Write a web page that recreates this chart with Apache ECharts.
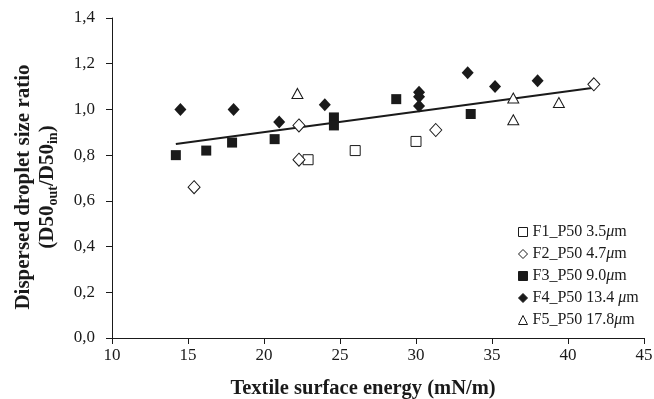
<!DOCTYPE html>
<html>
<head>
<meta charset="utf-8">
<script src="https://cdn.jsdelivr.net/npm/echarts@6/dist/echarts.min.js"></script>
<style>
  html, body { margin: 0; padding: 0; background: #fff; }
  #chart { width: 654px; height: 399px; }
</style>
</head>
<body>
<div id="chart"></div>
<script>
// values
const f1X = [22.9, 26.0, 30.0];
const f1Y = [0.78, 0.82, 0.86];
const f2X = [15.4, 22.3, 22.3, 31.3, 41.7];
const f2Y = [0.66, 0.93, 0.78, 0.91, 1.11];
const f3X = [14.2, 16.2, 17.9, 20.7, 24.6, 24.6, 28.7, 33.6];
const f3Y = [0.80, 0.82, 0.855, 0.87, 0.965, 0.93, 1.045, 0.98];
const f4X = [14.5, 18.0, 21.0, 24.0, 30.2, 30.2, 30.2, 33.4, 35.2, 38.0];
const f4Y = [1.0, 1.0, 0.945, 1.02, 1.075, 1.055, 1.015, 1.16, 1.10, 1.125];
const f5X = [22.2, 36.4, 36.4, 39.4];
const f5Y = [1.07, 1.05, 0.955, 1.03];
const trendX = [14.2, 41.7];
const trendY = [0.849, 1.095];

const seriesNames = [
  "F1_P50 3.5μm",
  "F2_P50 4.7μm",
  "F3_P50 9.0μm",
  "F4_P50 13.4 μm",
  "F5_P50 17.8μm",
];
const xTicks = { min: 10, max: 45, step: 5 };
const yTicks = { min: 0, max: 1.4, step: 0.2 };

const pairs = (xs, ys) => xs.map((x, i) => [x, ys[i]]);
const serif = "Liberation Serif";
const ink = "#1a1a1a";

const chart = echarts.init(document.getElementById("chart"));

const openStyle = { color: "#fff", borderColor: ink, borderWidth: 1, opacity: 1 };
const solidStyle = { color: ink, borderColor: ink, borderWidth: 0, opacity: 1 };

const option = {
  animation: false,
  backgroundColor: "#fff",
  textStyle: { fontFamily: serif, color: ink },
  grid: { left: 112, right: 10, top: 18, bottom: 61, outerBoundsMode: "none" },
  legend: {
    data: seriesNames,
    orient: "vertical",
    left: 513,
    top: 219,
    itemWidth: 9,
    itemHeight: 9,
    itemGap: 6,
    itemStyle: { borderWidth: 1 },
    formatter: (name) => {
      const parts = name.split("μ");
      return "{a|" + parts[0] + "}{i|μ}{a|" + parts[1] + "}";
    },
    textStyle: {
      fontFamily: serif,
      color: ink,
      rich: {
        a: { fontFamily: serif, fontSize: 16, color: ink, lineHeight: 16 },
        i: { fontFamily: serif, fontSize: 16, color: ink, fontStyle: "italic", lineHeight: 16 },
      },
    },
  },
  xAxis: {
    type: "value",
    min: xTicks.min,
    max: xTicks.max,
    interval: xTicks.step,
    splitLine: { show: false },
    axisLine: { show: true, lineStyle: { color: ink, width: 1 } },
    axisTick: { show: true, length: 6, lineStyle: { color: ink } },
    axisLabel: { fontFamily: serif, fontSize: 17, color: ink, margin: 9 },
    name: "Textile surface energy (mN/m)",
    nameLocation: "middle",
    nameGap: 40,
    nameTextStyle: {
      fontFamily: serif,
      fontSize: 20.5,
      fontWeight: "bold",
      color: ink,
      padding: [0, 30, 0, 0],
    },
  },
  yAxis: {
    type: "value",
    min: yTicks.min,
    max: yTicks.max,
    interval: yTicks.step,
    splitLine: { show: false },
    axisLine: { show: true, lineStyle: { color: ink, width: 1 } },
    axisTick: { show: true, length: 6, lineStyle: { color: ink } },
    axisLabel: {
      fontFamily: serif,
      fontSize: 17,
      color: ink,
      margin: 17,
      formatter: (v) => v.toFixed(1).replace(".", ","),
    },
    name:
      "{b|Dispersed droplet size ratio}\n{b|(D50}{s|out}{b|/D50}{s|in}{b|)}",
    nameLocation: "middle",
    nameGap: 52,
    nameTextStyle: {
      fontFamily: serif,
      color: ink,
      lineHeight: 24,
      padding: [0, 18, 0, 0],
      rich: {
        b: { fontFamily: serif, fontSize: 21, fontWeight: "bold", color: ink, lineHeight: 24 },
        s: {
          fontFamily: serif,
          fontSize: 14,
          fontWeight: "bold",
          color: ink,
          lineHeight: 14,
          padding: [10, 0, 0, 0],
        },
      },
    },
  },
  series: [
    {
      name: "trend",
      type: "line",
      data: pairs(trendX, trendY),
      symbol: "none",
      lineStyle: { color: ink, width: 2 },
      z: 1,
    },
    {
      name: seriesNames[0],
      type: "scatter",
      symbol: "rect",
      symbolSize: 10,
      itemStyle: openStyle,
      data: pairs(f1X, f1Y),
    },
    {
      name: seriesNames[1],
      type: "scatter",
      symbol: "diamond",
      symbolSize: [12, 13],
      itemStyle: openStyle,
      data: pairs(f2X, f2Y),
    },
    {
      name: seriesNames[2],
      type: "scatter",
      symbol: "rect",
      symbolSize: 10,
      itemStyle: solidStyle,
      data: pairs(f3X, f3Y),
    },
    {
      name: seriesNames[3],
      type: "scatter",
      symbol: "diamond",
      symbolSize: [12, 13],
      itemStyle: solidStyle,
      data: pairs(f4X, f4Y),
    },
    {
      name: seriesNames[4],
      type: "scatter",
      symbol: "triangle",
      symbolSize: [11, 10],
      itemStyle: openStyle,
      data: pairs(f5X, f5Y),
    },
  ],
};

chart.setOption(option);
</script>
</body>
</html>
